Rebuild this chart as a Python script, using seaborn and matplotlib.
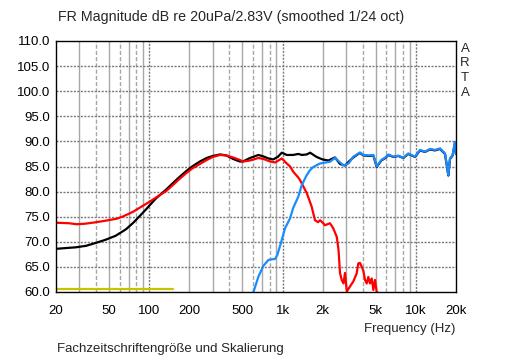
import numpy as np
import pandas as pd
import matplotlib
matplotlib.use("Agg")
import matplotlib.pyplot as plt
import seaborn as sns

# ---- data ----
black_f = [20, 25, 28.2, 33.6, 40, 47, 56, 67, 76, 84, 95, 101, 112, 134, 152, 170, 190, 210, 240,
           270, 300, 340, 380, 426, 478, 505, 571, 660, 720, 785, 850, 920, 988, 1076, 1200, 1313,
           1400, 1520, 1610, 1802, 2000, 2210, 2474, 2698, 2942, 3206, 3395, 3700, 3810, 4034, 4530,
           4800, 5080, 5510, 5900, 6230, 6776, 7386, 8054, 8776, 9850, 10740, 11710, 12760, 13910,
           15170, 16540, 17220, 17520, 18030, 18870, 19660, 20000]
black_db = [68.6, 68.8, 68.9, 69.2, 69.8, 70.4, 71.2, 72.5, 73.8, 75.0, 76.5, 77.3, 78.6, 80.4, 81.8,
            83.0, 84.1, 85.0, 86.0, 86.7, 87.1, 87.4, 87.2, 86.5, 86.0, 86.0, 86.7, 87.3, 87.0, 86.6,
            86.4, 86.9, 87.75, 87.3, 87.3, 87.5, 87.3, 87.4, 87.75, 86.9, 86.4, 86.2, 86.8, 85.5,
            85.2, 86.2, 86.8, 87.5, 87.7, 87.2, 87.1, 87.2, 84.9, 86.2, 86.7, 87.3, 86.9, 87.1, 86.7,
            87.5, 86.9, 88.2, 87.9, 88.4, 88.2, 88.5, 87.5, 84.5, 83.2, 86.5, 87.2, 89.8, 87.5]

red_f = [20, 25, 28.5, 33, 40, 47, 57, 63, 76, 85, 101, 120, 134, 152, 170, 190, 210, 240, 270, 300,
         340, 380, 426, 478, 505, 571, 660, 720, 805, 880, 988, 1076, 1140, 1200, 1313, 1352, 1520,
         1654, 1752, 1850, 1910, 2000, 2080, 2270, 2400, 2550, 2630, 2698, 2779, 2866, 2942, 3034,
         3206, 3395, 3598, 3701, 3810, 4034, 4154, 4280, 4400, 4530, 4665, 4800, 4937, 5080, 5320]
red_db = [73.8, 73.7, 73.5, 73.6, 73.9, 74.2, 74.6, 75.0, 76.0, 76.8, 78.0, 79.3, 80.1, 81.4, 82.6,
          83.7, 84.6, 85.5, 86.3, 86.9, 87.3, 87.2, 86.8, 86.3, 86.0, 86.2, 86.7, 86.5, 86.0, 85.8,
          86.6, 85.6, 85.0, 84.0, 82.8, 82.3, 79.7, 77.0, 74.3, 73.9, 74.3, 73.8, 73.3, 73.7, 72.7,
          71.0, 68.4, 63.8, 62.4, 61.7, 63.8, 60.1, 61.1, 62.1, 63.7, 65.7, 65.8, 64.3, 62.4, 61.7,
          63.0, 61.7, 62.7, 60.4, 62.4, 60.1, 59.5]

blue_f = [602, 658, 718, 785, 880, 915, 988, 1044, 1140, 1200, 1313, 1394, 1520, 1610, 1702, 1910,
          2270, 2474, 2630, 2866, 3130, 3395, 3810, 4034, 4530, 4800, 5080, 5510, 5900, 6230, 6776,
          7386, 8054, 8776, 9850, 10740, 11710, 12760, 13910, 15170, 16540, 17220, 17520, 18030,
          18870, 19660, 20000]
blue_db = [59.8, 63.0, 65.2, 66.4, 66.6, 67.4, 70.4, 72.7, 74.7, 76.7, 79.0, 81.3, 83.3, 84.3, 84.9,
           85.6, 85.95, 86.7, 86.1, 85.2, 85.6, 86.95, 87.8, 87.3, 87.2, 87.3, 85.0, 86.3, 86.8, 87.4,
           86.95, 87.15, 86.75, 87.6, 86.95, 88.3, 87.95, 88.5, 88.3, 88.6, 87.6, 84.6, 83.3, 86.6,
           87.3, 89.9, 87.6]

yellow_f = [20, 150]
yellow_db = [60.65, 60.65]

x_ticks = [20, 50, 100, 200, 500, 1000, 2000, 5000, 10000, 20000]
x_labels = ["20", "50", "100", "200", "500", "1k", "2k", "5k", "10k", "20k"]
y_ticks = [60, 65, 70, 75, 80, 85, 90, 95, 100, 105, 110]
y_labels = ["%.1f" % v for v in y_ticks]

title = "FR Magnitude dB re 20uPa/2.83V (smoothed 1/24 oct)"
xlabel = "Frequency (Hz)"
footer = "Fachzeitschriftengröße und Skalierung"

# ---- plotting ----
sns.set_style("white")
plt.rcParams['font.family'] = ['Liberation Sans', 'DejaVu Sans']
fs = 9.5

W, H = 512, 360
fig = plt.figure(figsize=(W / 100, H / 100), dpi=100)
ax = fig.add_axes([56 / W, (H - 292) / H, 400 / W, 251 / H])

# grid
for dec in [10, 100, 1000, 10000]:
    for m in range(1, 10):
        f = dec * m
        if f <= 20 or f >= 20000:
            continue
        if m == 1:
            ax.axvline(f, color='#7a7a7a', lw=1.0, ls=(0, (1.5, 1.0)), zorder=0)
        elif m in (4, 6, 8):
            ax.axvline(f, color='#a8a8a8', lw=1.0, ls=(0, (3, 1.5)), zorder=0)
        else:
            ax.axvline(f, color='#a8a8a8', lw=1.0, zorder=0)
for v in y_ticks[1:-1]:
    ax.axhline(v, color='#7a7a7a', lw=1.0, ls=(0, (1.5, 1.0)), zorder=0)

df_y = pd.DataFrame({'f': yellow_f, 'db': yellow_db})
df_k = pd.DataFrame({'f': black_f, 'db': black_db})
df_r = pd.DataFrame({'f': red_f, 'db': red_db})
df_b = pd.DataFrame({'f': blue_f, 'db': blue_db})

sns.lineplot(data=df_y, x='f', y='db', ax=ax, color='#c4c400', lw=1.6, sort=False)
sns.lineplot(data=df_k, x='f', y='db', ax=ax, color='black', lw=1.6, sort=False)
sns.lineplot(data=df_r, x='f', y='db', ax=ax, color='#ff0000', lw=1.6, sort=False)
sns.lineplot(data=df_b, x='f', y='db', ax=ax, color='#1a8cff', lw=1.6, sort=False)

ax.set_xscale('log')
ax.set_xlim(20, 20000)
ax.set_ylim(60, 110)
ax.set_xticks(x_ticks)
ax.set_xticklabels(x_labels)
ax.xaxis.set_minor_locator(matplotlib.ticker.NullLocator())
ax.set_yticks(y_ticks)
ax.set_yticklabels(y_labels)
ax.tick_params(axis='both', length=0, labelsize=fs, colors='black')
ax.tick_params(axis='y', pad=4)
ax.tick_params(axis='x', pad=9)
ax.set_xlabel('')
ax.set_ylabel('')
for s in ax.spines.values():
    s.set_color('black')
    s.set_linewidth(1.0)
    s.set_visible(True)

fig.text(58 / W, 1 - 17 / H, title, fontsize=10.3, ha='left', va='center')
fig.text(455 / W, 1 - 329 / H, xlabel, fontsize=fs, ha='right', va='center')
fig.text(57 / W, 1 - 349 / H, footer, fontsize=fs, ha='left', va='center')
for i, ch in enumerate("ARTA"):
    fig.text(465 / W, 1 - (49 + 14.5 * i) / H, ch, fontsize=fs, ha='center', va='center')

fig.savefig('out.png', dpi=100)
